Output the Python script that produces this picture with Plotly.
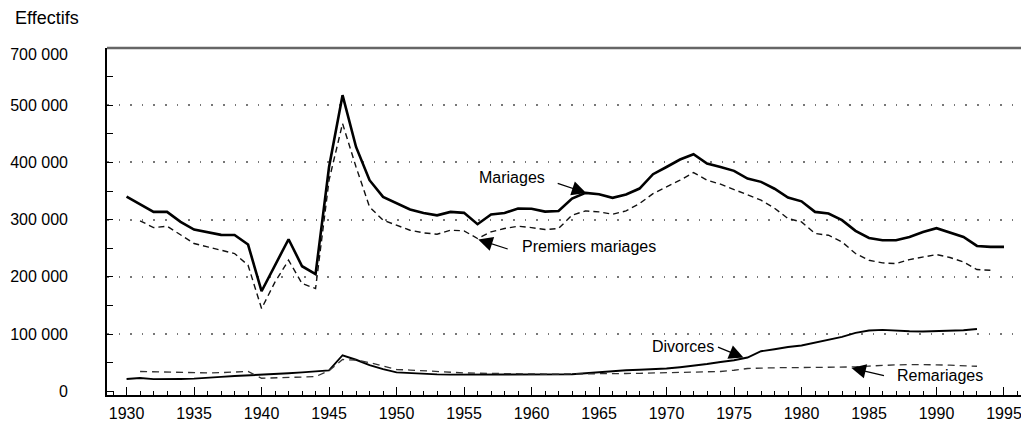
import plotly.graph_objects as go

years = list(range(1930, 1996))

mariages = [340000, 326000, 313500, 313500, 296000, 282700, 278000, 273300, 273000, 256400,
            174800, 220300, 265700, 218500, 204500, 392000, 517500, 427000, 368900, 339700,
            329200, 317600, 311700, 307500, 313500, 311800, 292000, 309000, 311700, 319400,
            319000, 314000, 315000, 336800, 346700, 344400, 338000, 343900, 354300, 379400,
            392000, 405000, 414300, 398000, 392000, 385200, 371800, 366000, 354000, 338600,
            332000, 313500, 310600, 299000, 280300, 268000, 264000, 264000, 269800, 278500,
            285000, 277400, 269800, 254000, 252300, 252300]

years_pm = list(range(1931, 1995))
premiers = [298000, 286000, 288500, 272700, 258200, 252300, 246500, 240700, 220300,
            144600, 191100, 229000, 188300, 179500, 368900, 468000, 392000, 322200, 299000,
            290200, 281500, 276800, 274500, 281500, 280300, 267000, 278500, 284400, 288500,
            286000, 282700, 284400, 307700, 315200, 313500, 309400, 315200, 328000, 345400,
            357100, 368900, 382300, 368900, 361900, 352600, 342700, 334000, 320000, 301900,
            296000, 275700, 272700, 261000, 240700, 229000, 224300, 223200, 230100, 234800,
            239000, 233700, 226000, 212700, 211500]

years_div = list(range(1930, 1994))
divorces = [21500, 23000, 21200, 21000, 21500, 22000, 24000, 25000, 26500, 27500,
            28500, 30000, 31500, 33000, 34500, 36500, 62900, 55000, 45500, 38500,
            33000, 31500, 30500, 29500, 29000, 29000, 29500, 29500, 29500, 29500,
            29000, 29500, 29700, 29700, 31500, 33500, 35000, 36700, 37500, 38500,
            39700, 42000, 44500, 47500, 51200, 54200, 58900, 69900, 73400, 77400,
            79900, 85100, 90900, 94900, 101900, 106100, 107200, 105400, 104900, 104400,
            104900, 106600, 106600, 108900]

years_rem = list(range(1931, 1995))
remariages = [34500, 34000, 33000, 32000, 31500, 32000, 32500, 33500, 34500,
              22700, 23300, 24000, 25000, 25500, 36000, 55400, 54500, 50000, 44000,
              38000, 37000, 35500, 34500, 33000, 32000, 31500, 31000, 31000, 30500,
              30500, 30000, 30000, 30000, 29700, 30000, 30300, 31000, 31300, 31700,
              32000, 32500, 33000, 33700, 34500, 36700, 39700, 40500, 41400, 41400,
              41400, 41400, 41400, 41700, 42500, 44000, 45500, 46000, 46500, 46700,
              46200, 45500, 44500, 43700]

y_label_vals = [0, 100000, 200000, 300000, 400000, 500000, 588000]
y_label_text = ["0", "100 000", "200 000", "300 000", "400 000", "500 000", "700 000"]
y_tick_vals = [0, 100000, 200000, 300000, 400000, 500000, 600000]
y_minor_vals = [50000, 150000, 250000, 350000, 450000, 550000]
y_grid_vals = [100000, 200000, 300000, 400000, 500000]

FONT = "Liberation Sans, Arial, Helvetica, sans-serif"
YR = [-6600, 600000]
XR = [1928.55, 1996.26]

ML, MT, MB = 107, 48, 28
W, H = 1021, 423
PW, PH = W - ML, H - MT - MB

fig = go.Figure()
fig.add_trace(go.Scatter(x=years, y=mariages, mode="lines", name="Mariages",
                         line=dict(color="black", width=2.6), yaxis="y"))
fig.add_trace(go.Scatter(x=years_pm, y=premiers, mode="lines", name="Premiers mariages",
                         line=dict(color="#111111", width=1.4, dash="6px,4px"), yaxis="y"))
fig.add_trace(go.Scatter(x=years_div, y=divorces, mode="lines", name="Divorces",
                         line=dict(color="black", width=1.9), yaxis="y"))
fig.add_trace(go.Scatter(x=years_rem, y=remariages, mode="lines", name="Remariages",
                         line=dict(color="#333333", width=1.3, dash="7px,5px"), yaxis="y"))
# invisible helper traces so overlay axes render
fig.add_trace(go.Scatter(x=[years[0]], y=[0], mode="markers", marker=dict(opacity=0),
                         yaxis="y2", showlegend=False, hoverinfo="skip"))
fig.add_trace(go.Scatter(x=[years[0]], y=[0], mode="markers", marker=dict(opacity=0),
                         yaxis="y3", showlegend=False, hoverinfo="skip"))

fig.update_layout(
    width=W, height=H, autosize=False,
    margin=dict(l=ML, r=0, t=MT, b=MB, pad=0, autoexpand=False),
    plot_bgcolor="white", paper_bgcolor="white",
    showlegend=False,
    font=dict(family=FONT, size=16, color="black"),
    xaxis=dict(range=XR, tickmode="linear", tick0=1930, dtick=5,
               ticks="inside", ticklen=8, tickwidth=1.2, tickcolor="black",
               minor=dict(tickmode="linear", tick0=1930, dtick=1, ticks="inside",
                          ticklen=4, tickwidth=1, tickcolor="black", showgrid=False),
               showline=True, linecolor="black", linewidth=1.6,
               showgrid=False, zeroline=False, ticklabelstandoff=3,
               ticklabeloverflow="allow",
               automargin=False, tickfont=dict(size=16)),
    yaxis=dict(range=YR, tickmode="array", tickvals=y_tick_vals,
               showticklabels=False, ticks="inside", ticklen=6, tickwidth=1,
               tickcolor="black",
               minor=dict(tickmode="array", tickvals=y_minor_vals, ticks="inside",
                          ticklen=6, tickwidth=1, tickcolor="black", showgrid=False),
               showline=True, linecolor="black", linewidth=1.6,
               showgrid=False, zeroline=False, automargin=False),
    yaxis2=dict(range=YR, overlaying="y", side="left", tickmode="array",
                tickvals=y_grid_vals, showticklabels=False, ticks="",
                showgrid=True, gridcolor="#777777", gridwidth=1.6, griddash="1.6px,10px",
                showline=False, zeroline=False, automargin=False),
    yaxis3=dict(range=YR, overlaying="y", side="left", tickmode="array",
                tickvals=y_label_vals, ticktext=y_label_text, ticks="",
                showgrid=False, showline=False, zeroline=False,
                ticklabelstandoff=38, automargin=False, tickfont=dict(size=16)),
)

# top frame line
fig.add_shape(type="line", xref="paper", yref="paper", x0=0, x1=1, y0=1, y1=1,
              line=dict(color="#666666", width=2.5))

fig.add_annotation(text="Effectifs", xref="paper", yref="paper",
                   x=(13 - ML) / PW, y=1 + (MT - 18) / PH,
                   xanchor="left", yanchor="middle", showarrow=False,
                   font=dict(size=18, family=FONT))

arrow_style = dict(showarrow=True, arrowhead=2, arrowsize=2.4, arrowwidth=1.2,
                   arrowcolor="black", axref="pixel", ayref="pixel", text="")
# arrows (tip on the curve, tail offset in pixels)
fig.add_annotation(x=1964.05, y=346700, ax=-30, ay=-10, **arrow_style)
fig.add_annotation(x=1956.05, y=265200, ax=31, ay=10, **arrow_style)
fig.add_annotation(x=1975.7, y=58900, ax=-27, ay=-11, **arrow_style)
fig.add_annotation(x=1983.7, y=40700, ax=34, ay=8, **arrow_style)

labels = [("Mariages", 1958.55, 374100), ("Premiers mariages", 1964.24, 253500),
          ("Divorces", 1971.2, 78700), ("Remariages", 1990.26, 26700)]
for t, lx, ly in labels:
    fig.add_annotation(text=t, x=lx, y=ly, showarrow=False, xanchor="center",
                       yanchor="middle", font=dict(size=16, family=FONT))

fig.write_html("out.html", config={"displayModeBar": False},
               post_script="document.body.style.margin='0';"
                           "document.body.style.overflow='hidden';")
